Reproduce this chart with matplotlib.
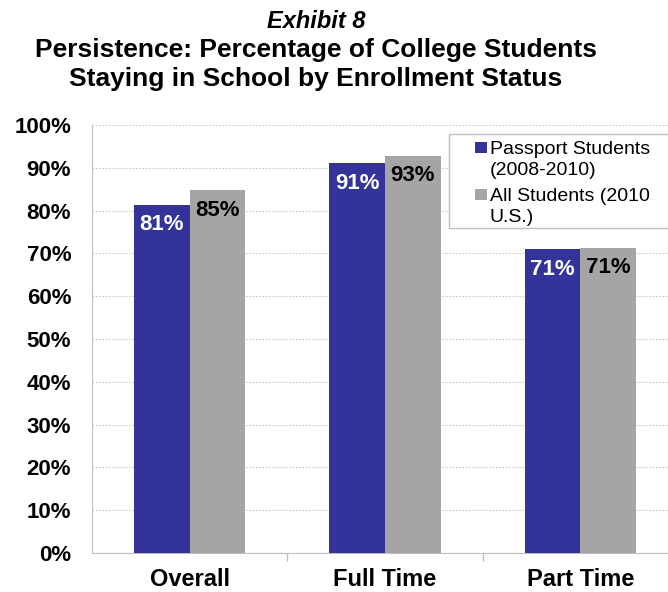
import matplotlib
matplotlib.use("Agg")
import matplotlib.pyplot as plt
import numpy as np
from matplotlib.patches import Rectangle
from matplotlib.ticker import FixedLocator

categories = ["Overall", "Full Time", "Part Time"]
passport = [81.4, 91.1, 71.0]
all_students = [84.7, 92.8, 71.3]
passport_labels = ["81%", "91%", "71%"]
all_labels = ["85%", "93%", "71%"]
series_names = ["Passport Students\n(2008-2010)", "All Students (2010\nU.S.)"]
yticks = list(range(0, 101, 10))
ytick_labels = [f"{v}%" for v in yticks]

BLUE = "#333399"
GRAY = "#A5A5A5"
FONT = "Liberation Sans"

plt.rcParams["font.family"] = [FONT, "DejaVu Sans"]

W, H = 668, 592
fig = plt.figure(figsize=(W/100, H/100), dpi=100)
ax = fig.add_axes([92/W, 1-553/H, 1-92/W, (553-125)/H])

x = np.arange(len(categories))
w = 0.285
b1 = ax.bar(x - w/2, passport, w, color=BLUE, zorder=3)
b2 = ax.bar(x + w/2, all_students, w, color=GRAY, zorder=3)

for rect, lab in zip(b1, passport_labels):
    ax.annotate(lab, (rect.get_x() + rect.get_width()/2, rect.get_height()),
                xytext=(0, -14.5), textcoords="offset points", ha="center", va="center",
                color="white", fontsize=16, fontweight="bold", zorder=4)
for rect, lab in zip(b2, all_labels):
    ax.annotate(lab, (rect.get_x() + rect.get_width()/2, rect.get_height()),
                xytext=(0, -14.5), textcoords="offset points", ha="center", va="center",
                color="black", fontsize=16, fontweight="bold", zorder=4)

ax.set_xlim(-0.5, -0.5 + (W-92)/195.3)
ax.set_ylim(0, 100)
ax.set_yticks(yticks)
ax.set_yticklabels(ytick_labels, fontsize=16, fontweight="bold")
ax.set_xticks(x)
ax.set_xticklabels(categories, fontsize=17, fontweight="bold")
ax.xaxis.set_minor_locator(FixedLocator([0.5, 1.5]))
ax.tick_params(axis="x", which="major", length=0, pad=11)
ax.tick_params(axis="x", which="minor", length=6, color="#BFBFBF", width=1)
ax.tick_params(axis="y", length=0, pad=15)

ax.grid(axis="y", linestyle=(0, (1.5, 1.5)), color="#C8C8C8", linewidth=0.8, zorder=0)
for s in ["top", "right"]:
    ax.spines[s].set_visible(False)
ax.spines["left"].set_color("#BFBFBF")
ax.spines["bottom"].set_color("#BFBFBF")

# Legend (Excel-style box, handle aligned with first text line)
fig.patches.append(Rectangle((449/W, 1-228/H), (W+5-449)/W, 94/H, transform=fig.transFigure,
                             facecolor="white", edgecolor="#BFBFBF", linewidth=1, zorder=5))
leg_colors = [BLUE, GRAY]
leg_baselines = [154, 201]
for col, name, base in zip(leg_colors, series_names, leg_baselines):
    fig.patches.append(Rectangle((475/W, 1-(base-1)/H), 12/W, 11/H, transform=fig.transFigure,
                                 facecolor=col, edgecolor="none", zorder=6))
    first, second = name.split("\n")
    fig.text(490/W, 1-base/H, first, ha="left", va="baseline", fontsize=14, zorder=7)
    fig.text(490/W, 1-(base+21.5)/H, second, ha="left", va="baseline", fontsize=14, zorder=7)

fig.text(0.473, 1-28/H, "Exhibit 8", ha="center", va="baseline", fontsize=17,
         fontweight="bold", fontstyle="italic")
fig.text(0.473, 1-57/H, "Persistence: Percentage of College Students", ha="center",
         va="baseline", fontsize=19, fontweight="bold")
fig.text(0.473, 1-86/H, "Staying in School by Enrollment Status", ha="center",
         va="baseline", fontsize=19, fontweight="bold")

fig.savefig("out.png", dpi=100)
